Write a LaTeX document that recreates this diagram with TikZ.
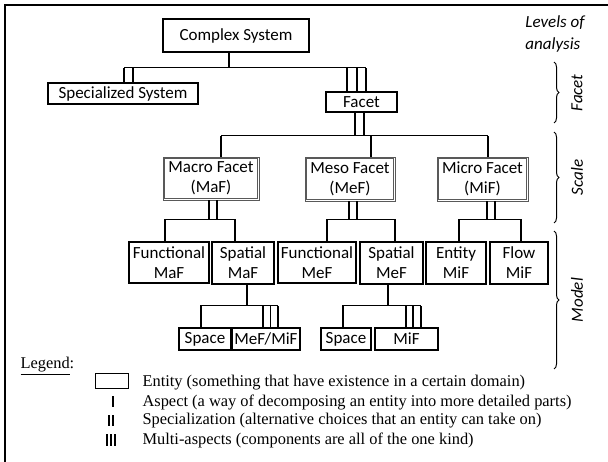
\documentclass[tikz,border=0pt]{standalone}
\usepackage{fontspec}
\setmainfont{Liberation Serif}
\newfontfamily\boxfont{Carlito}
\usetikzlibrary{decorations.pathreplacing}

\tikzset{
  ent/.style={draw, line width=1.1pt, inner sep=0pt, align=center,
    font=\boxfont\fontsize{17}{20}\selectfont},
  facetbox/.style={ent, draw=black!65, line width=0.9pt},
  innerline/.style={draw=black!65, line width=0.9pt},
  lvl/.style={decorate, decoration={brace, amplitude=5pt}, line width=1pt},
  lvltext/.style={font=\boxfont\itshape\fontsize{17}{20}\selectfont, rotate=90},
  keytext/.style={anchor=west, inner sep=0pt, font=\fontsize{16.4}{19}\selectfont},
  keymark/.style={line width=1.1pt},
}

\begin{document}
\begin{tikzpicture}[x=1pt,y=-1pt,line width=1.1pt]
\useasboundingbox (0,0) rectangle (608,462);
% frame
\draw[line width=2pt] (5,462) -- (5,5) -- (608,5);

% entities
\node[ent, minimum width=146pt, minimum height=33pt] (cs) at (236,35.5) {Complex System};
\node[ent, minimum width=150pt, minimum height=21pt] (spec) at (123,93.5) {Specialized System};
\node[ent, minimum width=71pt, minimum height=20pt] (facet) at (361.5,102) {Facet};
\node[facetbox, minimum width=96pt, minimum height=43pt] (maf) at (211,178.5) {Macro Facet\\(MaF)};
\node[facetbox, minimum width=90pt, minimum height=44pt] (mef) at (350,179) {Meso Facet\\(MeF)};
\node[facetbox, minimum width=91pt, minimum height=44pt] (mif) at (482.5,179) {Micro Facet\\(MiF)};
\foreach \n in {maf,mef,mif}
  \draw[innerline] ([xshift=2.3pt,yshift=-2.3pt]\n.north west) rectangle ([xshift=-2.3pt,yshift=2.3pt]\n.south east);
\node[ent, minimum width=80pt, minimum height=41pt] (fmaf) at (169,262.5) {Functional\\MaF};
\node[ent, minimum width=62pt, minimum height=42pt] (smaf) at (243,263) {Spatial\\MaF};
\node[ent, minimum width=78pt, minimum height=41pt] (fmef) at (317,262.5) {Functional\\MeF};
\node[ent, minimum width=63pt, minimum height=42pt] (smef) at (391.5,263) {Spatial\\MeF};
\node[ent, minimum width=60pt, minimum height=42pt] (emif) at (456,263) {Entity\\MiF};
\node[ent, minimum width=58pt, minimum height=42pt] (flmif) at (519,263) {Flow\\MiF};
\node[ent, minimum width=52pt, minimum height=22pt] (spa1) at (205,339) {Space};
\node[ent, minimum width=68pt, minimum height=22pt] (mm) at (266,339) {MeF/MiF};
\node[ent, minimum width=50pt, minimum height=22pt] (spa2) at (346,339) {Space};
\node[ent, minimum width=63pt, minimum height=22pt] (mif2) at (406.5,339) {MiF};

% complex system -> specialized system / facet
\draw ([xshift=-7pt]cs.south) -- ++(0,15) coordinate (b1);
\draw ([xshift=1pt]spec.north |- b1) -- ([xshift=4.5pt]facet.north |- b1);
\foreach \s in {1,10} \draw ([xshift=\s pt]spec.north) -- ([xshift=\s pt]spec.north |- b1);
\foreach \s in {-14.5,-4.5,4.5} \draw ([xshift=\s pt]facet.north) -- ([xshift=\s pt]facet.north |- b1);

% facet -> scales
\path (facet.south) ++(0,23) coordinate (b2);
\foreach \s in {-6.5,2.5} \draw ([xshift=\s pt]facet.south) -- ([xshift=\s pt]facet.south |- b2);
\draw ([xshift=10pt]maf.north |- b2) -- ([xshift=5.5pt]mif.north |- b2);
\foreach \n/\s in {maf/10,mef/21,mif/5.5} \draw ([xshift=\s pt]\n.north) -- ([xshift=\s pt]\n.north |- b2);

% scales -> models
\path (maf.south) ++(0,19) coordinate (b3);
\foreach \s in {-2,6} \draw ([xshift=\s pt]maf.south) -- ([xshift=\s pt]maf.south |- b3);
\draw ([xshift=-4pt]fmaf.north) |- ([xshift=-8pt]smaf.north |- b3) -- ([xshift=-8pt]smaf.north);
\path (mef.south) ++(0,18) coordinate (b4);
\foreach \s in {-1,7} \draw ([xshift=\s pt]mef.south) -- ([xshift=\s pt]mef.south |- b4);
\draw ([xshift=10pt]fmef.north) |- ([xshift=3.5pt]smef.north |- b4) -- ([xshift=3.5pt]smef.north);
\path (mif.south) ++(0,18) coordinate (b5);
\foreach \s in {4.5,12.5} \draw ([xshift=\s pt]mif.south) -- ([xshift=\s pt]mif.south |- b5);
\draw ([xshift=3pt]emif.north) |- ([xshift=2pt]flmif.north |- b5) -- ([xshift=2pt]flmif.north);

% spatial models -> parts
\draw ([xshift=4pt]smaf.south) -- ++(0,21) coordinate (b6);
\draw ([xshift=-4pt]spa1.north) |- ([xshift=12pt]mm.north |- b6);
\foreach \s in {-3,4.5,12} \draw ([xshift=\s pt]mm.north) -- ([xshift=\s pt]mm.north |- b6);
\draw ([xshift=-3.5pt]smef.south) -- ++(0,21) coordinate (b7);
\draw ([xshift=-3pt]spa2.north) |- ([xshift=14.5pt]mif2.north |- b7);
\foreach \s in {-0.5,6.5,14.5} \draw ([xshift=\s pt]mif2.north) -- ([xshift=\s pt]mif2.north |- b7);

% levels of analysis
\node[font=\boxfont\itshape\fontsize{17}{22}\selectfont, align=left] (lev) at (555,34) {Levels of\\analysis};
\draw[lvl] (554,62) -- (554,123);
\draw[lvl] (554,132) -- (554,223);
\draw[lvl] (554,231) -- (554,369);
\node[lvltext] (lf) at (577,93) {Facet};
\node[lvltext] (ls) at (577,177.5) {Scale};
\node[lvltext] (lm) at (577,300) {Model};

% legend
\node[keytext] (leg) at (20,366) {\underline{Legend}:};
\node[ent, line width=1pt, minimum width=33pt, minimum height=14pt] (key) at (111.5,381) {};
\draw[keymark] (113,396) -- (113,407);
\foreach \x in {109,113} \draw[keymark] (\x,415) -- (\x,426);
\foreach \x in {107,111,115} \draw[keymark] (\x,434) -- (\x,446);
\node[keytext] (k1) at (142,383) {Entity (something that have existence in a certain domain)};
\node[keytext] (k2) at (142,402) {Aspect (a way of decomposing an entity into more detailed parts)};
\node[keytext] (k3) at (142,421) {Specialization (alternative choices that an entity can take on)};
\node[keytext] (k4) at (142,440) {Multi-aspects (components are all of the one kind)};
\end{tikzpicture}
\end{document}
